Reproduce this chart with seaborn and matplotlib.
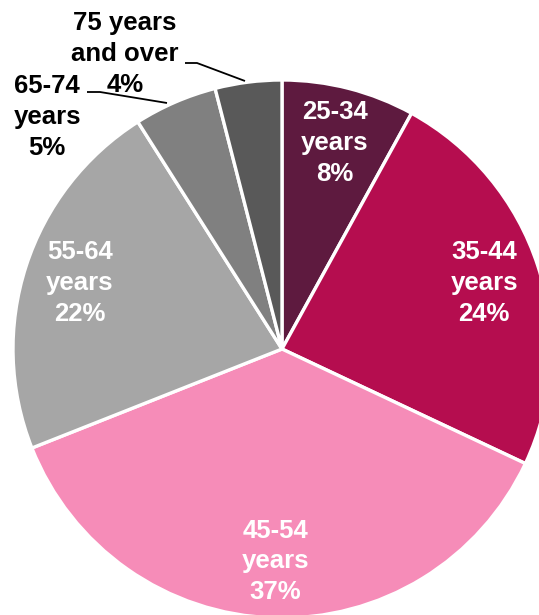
import matplotlib
matplotlib.use("Agg")
import matplotlib.pyplot as plt
import numpy as np
import seaborn as sns

# Age distribution shares (percent), clockwise from 12 o'clock
age_groups = ["25-34\nyears", "35-44\nyears", "45-54\nyears", "55-64\nyears",
              "65-74\nyears", "75 years\nand over"]
shares = [8, 24, 37, 22, 5, 4]
slice_colors = ["#5E1A3F", "#B50D4F", "#F68CB8", "#A6A6A6", "#808080", "#595959"]

sns.set_theme(style="white")
plt.rcParams["font.family"] = ["Liberation Sans", "DejaVu Sans"]

W, H, DPI = 539, 615, 100
fig = plt.figure(figsize=(W / DPI, H / DPI), dpi=DPI)
ax = fig.add_axes([0, 0, 1, 1])

# pixel geometry of the pie: centre and radius
cx, cy, R = 282, 349, 269

def to_data(px, py):
    return (px - cx) / R, (cy - py) / R

wedges, _ = ax.pie(
    shares,
    colors=slice_colors,
    startangle=90,
    counterclock=False,
    radius=1.0,
    wedgeprops=dict(edgecolor="white", linewidth=2.4),
)

text_kw = dict(fontsize=18.5, fontweight="bold", ha="center", va="center",
               linespacing=1.36)

# labels inside the four large slices
inside_r = 0.79
for w, grp, val in list(zip(wedges, age_groups, shares))[:4]:
    ang = np.deg2rad((w.theta1 + w.theta2) / 2)
    ax.text(inside_r * np.cos(ang), inside_r * np.sin(ang), f"{grp}\n{val}%",
            color="white", **text_kw)

# callout labels for the two small slices
x, y = to_data(47, 117)
ax.text(x, y, f"{age_groups[4]}\n{shares[4]}%", color="black", **text_kw)
x, y = to_data(125, 54)
ax.text(x, y, f"{age_groups[5]}\n{shares[5]}%", color="black", **text_kw)

for pts in ([(87, 92), (100, 92), (167, 103)],
            [(185, 63), (197, 63), (245, 81)]):
    xs, ys = zip(*[to_data(px, py) for px, py in pts])
    ax.plot(xs, ys, color="black", linewidth=1.3, solid_capstyle="butt")

ax.set_xlim((0 - cx) / R, (W - cx) / R)
ax.set_ylim((cy - H) / R, cy / R)
ax.set_aspect("auto")
ax.axis("off")

fig.savefig("out.png", dpi=DPI, facecolor="white")
